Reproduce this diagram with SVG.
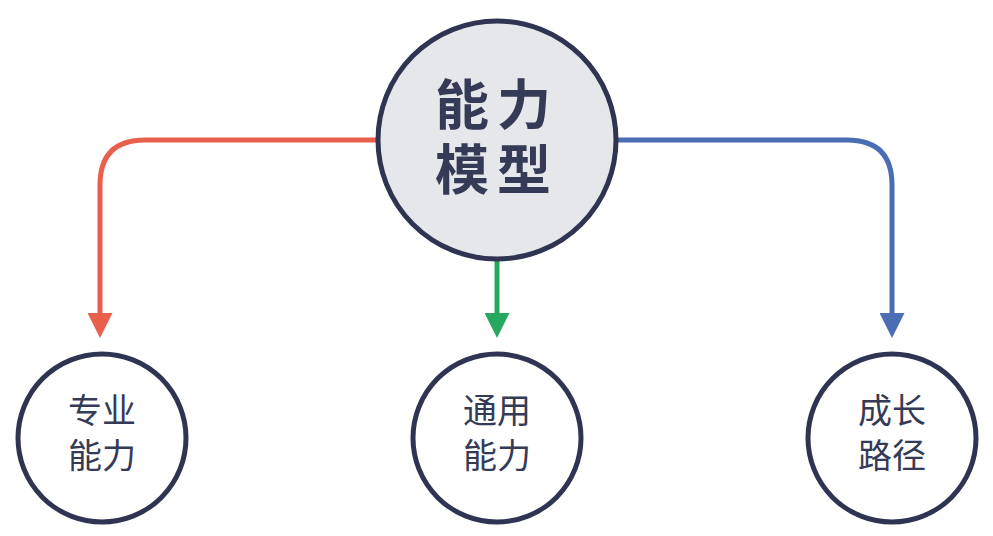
<svg xmlns="http://www.w3.org/2000/svg" width="993" height="536" viewBox="0 0 993 536">
<style>
.c{stroke:#2f3452;stroke-width:5}
.t{font-family:"Noto Sans CJK SC",sans-serif;fill:#353a56;text-anchor:middle}
.l{fill:none;stroke-width:5}
</style>
<defs>
<marker id="r" viewBox="0 0 10 10" refX="2" refY="5" markerWidth="5" markerHeight="5" orient="auto"><path d="M0,0L10,5L0,10z" fill="#e8604c"/></marker>
<marker id="g" viewBox="0 0 10 10" refX="2" refY="5" markerWidth="5" markerHeight="5" orient="auto"><path d="M0,0L10,5L0,10z" fill="#27a85f"/></marker>
<marker id="b" viewBox="0 0 10 10" refX="2" refY="5" markerWidth="5" markerHeight="5" orient="auto"><path d="M0,0L10,5L0,10z" fill="#4a6db3"/></marker>
</defs>
<rect width="993" height="536" fill="#fff"/>
<g id="connectors">
<path class="l" stroke="#e8604c" d="M378,140H145Q100,140 100,185V318" marker-end="url(#r)"/>
<path class="l" stroke="#27a85f" d="M497,260V318" marker-end="url(#g)"/>
<path class="l" stroke="#4a6db3" d="M617,140H847Q892,140 892,185V318" marker-end="url(#b)"/>
</g>
<g id="center"><circle class="c" cx="497" cy="140" r="119" fill="#e6e7ea"/>
<text class="t" x="497" y="125" font-size="54" font-weight="bold" letter-spacing="8">能力</text>
<text class="t" x="497" y="190" font-size="54" font-weight="bold" letter-spacing="8">模型</text></g>
<g id="n1"><circle class="c" cx="102" cy="438" r="84" fill="#fff"/>
<text class="t" x="102" y="423" font-size="34">专业</text><text class="t" x="102" y="468" font-size="34">能力</text></g>
<g id="n2"><circle class="c" cx="497" cy="438" r="84" fill="#fff"/>
<text class="t" x="497" y="423" font-size="34">通用</text><text class="t" x="497" y="468" font-size="34">能力</text></g>
<g id="n3"><circle class="c" cx="892" cy="438" r="84" fill="#fff"/>
<text class="t" x="892" y="423" font-size="34">成长</text><text class="t" x="892" y="468" font-size="34">路径</text></g>
</svg>
